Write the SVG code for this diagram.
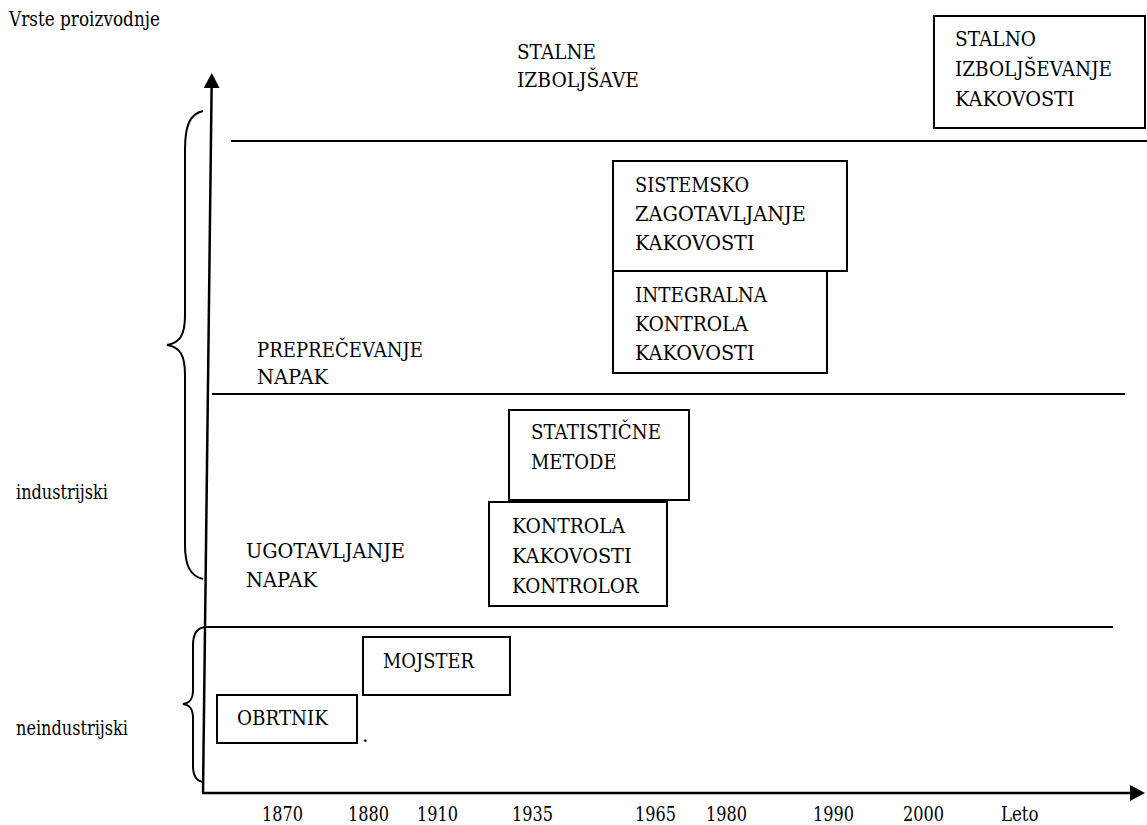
<svg xmlns="http://www.w3.org/2000/svg" width="1147" height="825" viewBox="0 0 1147 825">
  <style>
    text { font-family: "DejaVu Serif", "Liberation Serif", serif; font-size: 20.5px; fill: #000; }
    .box { fill: #fff; stroke: #000; stroke-width: 2; }
    .line { fill: none; stroke: #000; stroke-width: 2; }
    .axis { fill: none; stroke: #000; stroke-width: 2.5; }
    .brace { fill: none; stroke: #000; stroke-width: 2; }
  </style>
  <defs>
    <marker id="arrow" viewBox="0 0 15 16" refX="0" refY="8" markerWidth="15" markerHeight="16" markerUnits="userSpaceOnUse" orient="auto">
      <path d="M0,0 L15,8 L0,16 Z" fill="#000"/>
    </marker>
  </defs>
  <rect width="1147" height="825" fill="#fff"/>

  <!-- axes, level separators and braces -->
  <g id="connectors">
    <line class="axis" x1="203" y1="793" x2="211.6" y2="88" marker-end="url(#arrow)"/>
    <line class="axis" x1="202" y1="793" x2="1130" y2="793" marker-end="url(#arrow)"/>
    <line class="line" x1="231" y1="141" x2="1147" y2="141"/>
    <line class="line" x1="212" y1="394" x2="1125" y2="394"/>
    <line class="line" x1="205" y1="627" x2="1113" y2="627"/>
    <path class="brace" d="M203,111 C190,114 185,125 185,150 L185,315 C185,335 180,343 167,345 C180,347 185,355 185,375 L185,545 C185,565 190,576 203,579"/>
    <path class="brace" d="M205,627 C197,628 193,634 193,645 L193,690 C193,699 190,703 183,704 C190,705 193,709 193,718 L193,766 C193,777 197,781 203,782"/>
  </g>

  <!-- axis titles and row labels -->
  <g id="labels">
    <text x="9" y="26" textLength="151" lengthAdjust="spacingAndGlyphs">Vrste proizvodnje</text>
    <text x="16" y="499" textLength="92" lengthAdjust="spacingAndGlyphs">industrijski</text>
    <text x="16" y="735" textLength="112" lengthAdjust="spacingAndGlyphs">neindustrijski</text>
    <text x="517" y="59" textLength="79" lengthAdjust="spacingAndGlyphs">STALNE</text>
    <text x="517" y="87" textLength="122" lengthAdjust="spacingAndGlyphs">IZBOLJŠAVE</text>
    <text x="257" y="357" textLength="166" lengthAdjust="spacingAndGlyphs">PREPREČEVANJE</text>
    <text x="257" y="384" textLength="71" lengthAdjust="spacingAndGlyphs">NAPAK</text>
    <text x="246" y="558" textLength="159" lengthAdjust="spacingAndGlyphs">UGOTAVLJANJE</text>
    <text x="246" y="587" textLength="71" lengthAdjust="spacingAndGlyphs">NAPAK</text>
    <text x="362" y="742" font-size="12">.</text>
  </g>

  <!-- year ticks along the time axis -->
  <g id="years">
    <text x="262" y="821" textLength="41" lengthAdjust="spacingAndGlyphs">1870</text>
    <text x="348" y="821" textLength="41" lengthAdjust="spacingAndGlyphs">1880</text>
    <text x="417" y="821" textLength="41" lengthAdjust="spacingAndGlyphs">1910</text>
    <text x="512" y="821" textLength="41" lengthAdjust="spacingAndGlyphs">1935</text>
    <text x="635" y="821" textLength="41" lengthAdjust="spacingAndGlyphs">1965</text>
    <text x="706" y="821" textLength="41" lengthAdjust="spacingAndGlyphs">1980</text>
    <text x="813" y="821" textLength="41" lengthAdjust="spacingAndGlyphs">1990</text>
    <text x="903" y="821" textLength="41" lengthAdjust="spacingAndGlyphs">2000</text>
    <text x="1001" y="821" textLength="37.5" lengthAdjust="spacingAndGlyphs">Leto</text>
  </g>

  <g id="stalno">
    <rect class="box" x="934" y="16" width="211" height="112"/>
    <text x="955" y="46" textLength="81" lengthAdjust="spacingAndGlyphs">STALNO</text>
    <text x="955" y="76" textLength="157" lengthAdjust="spacingAndGlyphs">IZBOLJŠEVANJE</text>
    <text x="955" y="106" textLength="119.5" lengthAdjust="spacingAndGlyphs">KAKOVOSTI</text>
  </g>

  <g id="sistemsko">
    <rect class="box" x="613" y="161" width="234" height="110"/>
    <text x="635" y="192" textLength="114" lengthAdjust="spacingAndGlyphs">SISTEMSKO</text>
    <text x="635" y="221" textLength="171" lengthAdjust="spacingAndGlyphs">ZAGOTAVLJANJE</text>
    <text x="635" y="250" textLength="119.5" lengthAdjust="spacingAndGlyphs">KAKOVOSTI</text>
  </g>

  <g id="integralna">
    <rect class="box" x="613" y="271" width="214" height="102"/>
    <text x="635" y="302" textLength="132" lengthAdjust="spacingAndGlyphs">INTEGRALNA</text>
    <text x="635" y="331" textLength="113" lengthAdjust="spacingAndGlyphs">KONTROLA</text>
    <text x="635" y="360" textLength="119.5" lengthAdjust="spacingAndGlyphs">KAKOVOSTI</text>
  </g>

  <g id="statisticne">
    <rect class="box" x="509" y="410" width="180" height="90"/>
    <text x="531" y="439" textLength="130" lengthAdjust="spacingAndGlyphs">STATISTIČNE</text>
    <text x="531" y="469" textLength="85.5" lengthAdjust="spacingAndGlyphs">METODE</text>
  </g>

  <g id="kontrola">
    <rect class="box" x="489" y="502" width="178" height="104"/>
    <text x="512" y="533" textLength="113" lengthAdjust="spacingAndGlyphs">KONTROLA</text>
    <text x="512" y="563" textLength="119.5" lengthAdjust="spacingAndGlyphs">KAKOVOSTI</text>
    <text x="512" y="593" textLength="126.5" lengthAdjust="spacingAndGlyphs">KONTROLOR</text>
  </g>

  <g id="mojster">
    <rect class="box" x="363" y="637" width="147" height="58"/>
    <text x="383" y="668" textLength="91" lengthAdjust="spacingAndGlyphs">MOJSTER</text>
  </g>

  <g id="obrtnik">
    <rect class="box" x="217" y="695" width="140" height="48"/>
    <text x="237" y="725" textLength="91" lengthAdjust="spacingAndGlyphs">OBRTNIK</text>
  </g>
</svg>
